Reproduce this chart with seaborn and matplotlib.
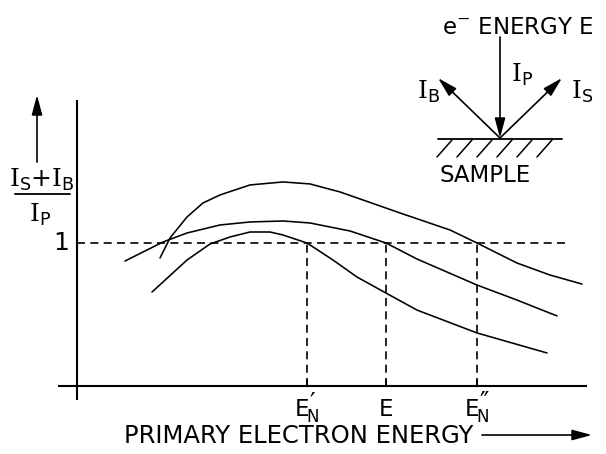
import numpy as np
import pandas as pd
import seaborn as sns
import matplotlib
matplotlib.use("Agg")
import matplotlib.pyplot as plt
from matplotlib.patches import FancyArrowPatch
from matplotlib.lines import Line2D

# ---- data (arbitrary units; ratio = (I_S+I_B)/I_P) ----
energy_a = [0.83, 0.93, 1.10, 1.26, 1.43, 1.73, 2.06, 2.33, 2.63, 3.03, 3.23, 3.73, 4.00, 4.40, 4.73, 5.05]
ratio_a = [0.895, 1.035, 1.182, 1.280, 1.336, 1.406, 1.427, 1.413, 1.357, 1.259, 1.210, 1.091, 1.000, 0.860, 0.776, 0.713]

energy_b = [0.48, 0.86, 1.10, 1.43, 1.73, 2.06, 2.33, 2.73, 3.09, 3.40, 4.00, 4.40, 4.80]
ratio_b = [0.874, 1.007, 1.070, 1.126, 1.147, 1.154, 1.140, 1.084, 1.000, 0.888, 0.706, 0.601, 0.490]

energy_c = [0.75, 1.10, 1.33, 1.53, 1.73, 1.93, 2.06, 2.30, 2.56, 2.80, 3.09, 3.40, 4.00, 4.70]
ratio_c = [0.657, 0.881, 0.993, 1.042, 1.077, 1.077, 1.056, 1.000, 0.881, 0.762, 0.650, 0.531, 0.371, 0.231]

tick_energies = [2.30, 3.09, 4.00]
tick_subscripts = ["N", "", "N"]
tick_primes = ["\u2032", "", "\u2033"]
unity_level = 1.0

# ---- style ----
sns.set_theme(style="white")
plt.rcParams["font.family"] = ["DejaVu Sans"]
plt.rcParams["text.color"] = "black"
plt.rcParams["mathtext.fontset"] = "custom"
plt.rcParams["mathtext.rm"] = "DejaVu Serif"
plt.rcParams["mathtext.sf"] = "DejaVu Sans"
plt.rcParams["mathtext.it"] = "DejaVu Sans"

W, H = 606, 454
fig = plt.figure(figsize=(W / 100, H / 100), dpi=100)
ax = fig.add_axes([0, 0, 1, 1])

df = pd.concat([
    pd.DataFrame({"energy": energy_a, "ratio": ratio_a, "curve": "a"}),
    pd.DataFrame({"energy": energy_b, "ratio": ratio_b, "curve": "b"}),
    pd.DataFrame({"energy": energy_c, "ratio": ratio_c, "curve": "c"}),
])
sns.lineplot(data=df, x="energy", y="ratio", hue="curve", palette=["black"] * 3,
             estimator=None, sort=False, legend=False, linewidth=1.15, ax=ax)

# data limits chosen so that axes origin sits at pixel (77, 386)
x0, y0, sx, sy = 77, 386, 100.0, 143.0
ax.set_xlim(-x0 / sx, (W - x0) / sx)
ax.set_ylim((y0 - H) / sy, y0 / sy)
ax.axis("off")

k = "black"
# axes
ax.plot([0, 0], [(y0 - 400) / sy, (y0 - 100) / sy], color=k, lw=1.5, solid_capstyle="butt")
ax.plot([(58 - x0) / sx, (587 - x0) / sx], [0, 0], color=k, lw=1.5, solid_capstyle="butt")

# dashed guide lines
dash = dict(color=k, lw=1.2, dashes=(4.8, 3.2))
ax.plot([0, (567 - x0) / sx], [unity_level, unity_level], **dash)
ly = (y0 - 410) / sy
for e, sub, pr in zip(tick_energies, tick_subscripts, tick_primes):
    ax.plot([e, e], [0, unity_level], **dash)
    ax.plot([e, e], [0, 6 / sy], color=k, lw=1.2)
    if sub:
        ax.text(e + 2 / sx, ly, "E", ha="right", va="center", fontsize=16.5)
        ax.text(e - 0.5 / sx, ly - 7 / sy, sub, ha="left", va="center", fontsize=12)
        ax.text(e + 3 / sx, ly + 8 / sy, pr, ha="left", va="center", fontsize=18)
    else:
        ax.text(e, ly, "E", ha="center", va="center", fontsize=16.5)

ax.text(-16 / sx, unity_level, "1", ha="center", va="center", fontsize=18)


def F(x, y):
    return (x / W, 1 - y / H)


def arrow(p, q, hl=0.75, hw=0.2):
    a = FancyArrowPatch(F(*p), F(*q), transform=fig.transFigure,
                        arrowstyle=f"-|>,head_length={hl},head_width={hw}",
                        mutation_scale=16, lw=1.2, color=k, shrinkA=0, shrinkB=0)
    fig.add_artist(a)


# y-label
arrow((37, 162), (37, 95))
fig.text(*F(42, 180), r"$\mathrm{I}_{\mathsf{S}}\mathsf{+}\mathrm{I}_{\mathsf{B}}$", ha="center", va="center", fontsize=18)
fig.add_artist(Line2D([15 / W, 70 / W], [1 - 194 / H] * 2, color=k, lw=1.3))
fig.text(*F(40, 215), r"$\mathrm{I}_{\mathsf{P}}$", ha="center", va="center", fontsize=18)

# x-label
fig.text(*F(473, 436), "PRIMARY ELECTRON ENERGY", ha="right", va="center", fontsize=17.5)
arrow((482, 435), (592, 435))

# inset diagram
fig.text(*F(518, 27), r"e$^{\mathsf{-}}$ ENERGY E", ha="center", va="center", fontsize=16.5)
arrow((500, 37), (500, 138))
arrow((500, 138), (438, 78))
arrow((500, 138), (562, 78))
fig.text(*F(522, 75), r"$\mathrm{I}_{\mathsf{P}}$", ha="center", va="center", fontsize=18)
fig.text(*F(428, 92), r"$\mathrm{I}_{\mathsf{B}}$", ha="center", va="center", fontsize=18)
fig.text(*F(582, 92), r"$\mathrm{I}_{\mathsf{S}}$", ha="center", va="center", fontsize=18)
fig.add_artist(Line2D([438 / W, 562 / W], [1 - 139 / H] * 2, color=k, lw=1.3))
for xt in np.arange(452, 560, 20):
    fig.add_artist(Line2D([xt / W, (xt - 15) / W], [1 - 140 / H, 1 - 157 / H], color=k, lw=1.1))
fig.text(*F(485, 176), "SAMPLE", ha="center", va="center", fontsize=16.5)

fig.savefig("out.png", dpi=100)
